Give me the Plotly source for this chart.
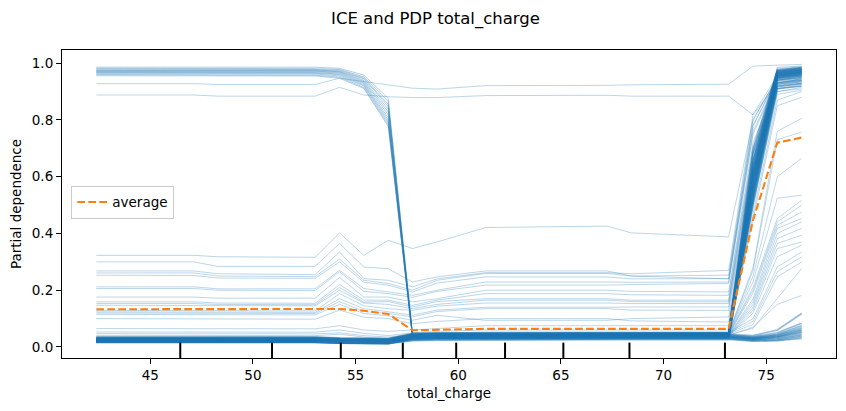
import plotly.graph_objects as go

# ---------------- data ----------------
# grid positions of total_charge at the key grid points of each line family
X_H = [42.37, 53.03, 54.22, 55.40, 56.59, 57.77, 58.96, 73.17, 74.36, 75.54, 76.73]
X_M = [42.37, 47.11, 48.29, 53.03, 54.22, 55.40, 56.59, 57.77, 58.96, 61.33,
       67.25, 68.44, 73.17, 74.36, 75.54, 76.73]
X_L = [42.37, 53.03, 54.22, 56.59, 57.77, 58.96, 73.17, 74.36, 75.54, 76.73]

# ICE lines that start high and drop at ~57.7 (values at X_H)
ICE_HIGH = [
    [0.986, 0.986, 0.982, 0.958, 0.876, 0.050, 0.050, 0.050, 0.66, 0.985, 0.990],
    [0.982, 0.981, 0.978, 0.952, 0.865, 0.046, 0.048, 0.048, 0.64, 0.980, 0.988],
    [0.979, 0.978, 0.975, 0.948, 0.855, 0.044, 0.046, 0.046, 0.62, 0.978, 0.985],
    [0.976, 0.976, 0.972, 0.945, 0.848, 0.043, 0.045, 0.045, 0.61, 0.975, 0.983],
    [0.974, 0.974, 0.970, 0.940, 0.838, 0.042, 0.044, 0.044, 0.60, 0.974, 0.982],
    [0.972, 0.972, 0.968, 0.936, 0.828, 0.041, 0.043, 0.043, 0.59, 0.972, 0.980],
    [0.970, 0.970, 0.965, 0.932, 0.818, 0.040, 0.042, 0.042, 0.58, 0.970, 0.978],
    [0.968, 0.967, 0.962, 0.928, 0.808, 0.039, 0.041, 0.041, 0.57, 0.968, 0.976],
    [0.966, 0.965, 0.959, 0.924, 0.800, 0.038, 0.040, 0.040, 0.56, 0.966, 0.975],
    [0.963, 0.962, 0.955, 0.920, 0.792, 0.037, 0.039, 0.039, 0.55, 0.963, 0.972],
    [0.960, 0.958, 0.951, 0.915, 0.785, 0.036, 0.038, 0.038, 0.54, 0.960, 0.970],
    [0.956, 0.955, 0.947, 0.911, 0.778, 0.035, 0.037, 0.037, 0.53, 0.957, 0.968],
]

# ICE lines staying high plus mid-level lines (values at X_M)
ICE_MID = [
    [0.928, 0.928, 0.925, 0.925, 0.947, 0.935, 0.922, 0.912, 0.909, 0.921, 0.922, 0.924, 0.926, 0.990, 0.993, 0.996],
    [0.888, 0.888, 0.884, 0.884, 0.915, 0.888, 0.882, 0.879, 0.879, 0.886, 0.887, 0.884, 0.884, 0.818, 0.930, 0.945],
    [0.323, 0.323, 0.318, 0.316, 0.402, 0.323, 0.376, 0.347, 0.370, 0.421, 0.426, 0.402, 0.388, 0.800, 0.950, 0.960],
    [0.300, 0.300, 0.284, 0.284, 0.365, 0.282, 0.276, 0.229, 0.247, 0.268, 0.268, 0.250, 0.240, 0.780, 0.950, 0.965],
    [0.268, 0.268, 0.258, 0.255, 0.335, 0.241, 0.235, 0.212, 0.240, 0.262, 0.262, 0.258, 0.270, 0.820, 0.955, 0.970],
    [0.261, 0.261, 0.250, 0.248, 0.310, 0.235, 0.224, 0.200, 0.235, 0.259, 0.259, 0.250, 0.253, 0.800, 0.950, 0.960],
    [0.253, 0.252, 0.243, 0.242, 0.300, 0.228, 0.218, 0.194, 0.225, 0.247, 0.247, 0.240, 0.241, 0.780, 0.945, 0.955],
    [0.212, 0.212, 0.205, 0.205, 0.270, 0.206, 0.194, 0.182, 0.200, 0.229, 0.229, 0.228, 0.229, 0.760, 0.940, 0.955],
    [0.206, 0.206, 0.200, 0.199, 0.265, 0.196, 0.188, 0.175, 0.196, 0.218, 0.218, 0.220, 0.224, 0.750, 0.940, 0.950],
    [0.176, 0.176, 0.172, 0.172, 0.245, 0.176, 0.176, 0.159, 0.170, 0.200, 0.200, 0.196, 0.194, 0.720, 0.930, 0.945],
    [0.159, 0.159, 0.155, 0.154, 0.220, 0.165, 0.165, 0.147, 0.165, 0.188, 0.188, 0.184, 0.182, 0.700, 0.930, 0.940],
    [0.153, 0.153, 0.150, 0.149, 0.210, 0.158, 0.160, 0.141, 0.160, 0.170, 0.170, 0.165, 0.165, 0.690, 0.925, 0.940],
    [0.147, 0.147, 0.145, 0.145, 0.200, 0.155, 0.150, 0.135, 0.150, 0.165, 0.165, 0.160, 0.159, 0.680, 0.920, 0.935],
    [0.129, 0.129, 0.127, 0.127, 0.188, 0.145, 0.135, 0.129, 0.144, 0.155, 0.155, 0.153, 0.153, 0.660, 0.920, 0.930],
    [0.124, 0.124, 0.122, 0.122, 0.170, 0.135, 0.124, 0.112, 0.130, 0.140, 0.140, 0.141, 0.141, 0.640, 0.915, 0.930],
    [0.120, 0.120, 0.118, 0.118, 0.160, 0.125, 0.118, 0.106, 0.125, 0.135, 0.135, 0.130, 0.129, 0.620, 0.910, 0.925],
    [0.115, 0.115, 0.113, 0.113, 0.150, 0.118, 0.110, 0.094, 0.112, 0.094, 0.094, 0.100, 0.106, 0.600, 0.910, 0.920],
    [0.100, 0.100, 0.098, 0.098, 0.130, 0.105, 0.100, 0.082, 0.090, 0.100, 0.100, 0.092, 0.088, 0.580, 0.900, 0.915],
    [0.065, 0.065, 0.064, 0.064, 0.075, 0.060, 0.055, 0.060, 0.065, 0.075, 0.075, 0.075, 0.075, 0.550, 0.900, 0.910],
    [0.053, 0.053, 0.052, 0.052, 0.060, 0.048, 0.040, 0.050, 0.055, 0.060, 0.060, 0.060, 0.060, 0.500, 0.890, 0.905],
    [0.047, 0.047, 0.046, 0.046, 0.050, 0.040, 0.035, 0.045, 0.048, 0.052, 0.052, 0.052, 0.052, 0.470, 0.870, 0.900],
    [0.041, 0.041, 0.040, 0.040, 0.045, 0.035, 0.030, 0.042, 0.045, 0.048, 0.048, 0.048, 0.048, 0.450, 0.850, 0.880],
]

# dense low bundle that rises at the end (values at X_L)
ICE_LOW_RISE = [
    [0.035, 0.035, 0.032, 0.030, 0.048, 0.050, 0.052, 0.70, 0.975, 0.985],
    [0.034, 0.034, 0.031, 0.029, 0.046, 0.048, 0.050, 0.68, 0.972, 0.982],
    [0.033, 0.033, 0.030, 0.028, 0.045, 0.047, 0.049, 0.66, 0.970, 0.980],
    [0.032, 0.032, 0.029, 0.027, 0.044, 0.046, 0.048, 0.65, 0.968, 0.978],
    [0.031, 0.031, 0.028, 0.026, 0.043, 0.045, 0.047, 0.64, 0.966, 0.976],
    [0.030, 0.030, 0.027, 0.025, 0.042, 0.044, 0.046, 0.63, 0.964, 0.974],
    [0.029, 0.029, 0.026, 0.024, 0.041, 0.043, 0.045, 0.62, 0.962, 0.972],
    [0.028, 0.028, 0.025, 0.023, 0.040, 0.042, 0.044, 0.61, 0.960, 0.970],
    [0.027, 0.027, 0.024, 0.022, 0.039, 0.041, 0.043, 0.60, 0.958, 0.968],
    [0.026, 0.026, 0.023, 0.021, 0.038, 0.040, 0.042, 0.60, 0.956, 0.966],
    [0.025, 0.025, 0.022, 0.020, 0.037, 0.039, 0.041, 0.59, 0.954, 0.964],
    [0.024, 0.024, 0.021, 0.019, 0.036, 0.038, 0.040, 0.58, 0.952, 0.962],
    [0.023, 0.023, 0.020, 0.018, 0.035, 0.037, 0.039, 0.57, 0.950, 0.960],
    [0.022, 0.022, 0.019, 0.017, 0.034, 0.036, 0.038, 0.56, 0.946, 0.956],
    [0.021, 0.021, 0.018, 0.016, 0.033, 0.035, 0.037, 0.55, 0.942, 0.952],
    [0.020, 0.020, 0.017, 0.015, 0.032, 0.034, 0.036, 0.54, 0.938, 0.948],
    [0.019, 0.019, 0.016, 0.014, 0.031, 0.033, 0.035, 0.53, 0.932, 0.942],
    [0.018, 0.018, 0.015, 0.013, 0.030, 0.032, 0.034, 0.52, 0.926, 0.936],
    [0.017, 0.017, 0.014, 0.012, 0.029, 0.031, 0.033, 0.51, 0.918, 0.928],
    [0.016, 0.016, 0.013, 0.012, 0.028, 0.030, 0.032, 0.50, 0.910, 0.920],
    [0.030, 0.030, 0.027, 0.024, 0.044, 0.046, 0.048, 0.62, 0.965, 0.975],
    [0.027, 0.027, 0.024, 0.021, 0.041, 0.043, 0.045, 0.59, 0.960, 0.970],
    [0.024, 0.024, 0.021, 0.018, 0.038, 0.040, 0.042, 0.56, 0.955, 0.965],
    [0.021, 0.021, 0.018, 0.016, 0.035, 0.037, 0.039, 0.53, 0.948, 0.958],
]

# dense low bundle that stays low at the end (values at X_L)
ICE_LOW_STAY = [
    [0.030, 0.030, 0.027, 0.024, 0.040, 0.042, 0.045, 0.040, 0.060, 0.118],
    [0.028, 0.028, 0.025, 0.022, 0.038, 0.040, 0.043, 0.036, 0.050, 0.084],
    [0.026, 0.026, 0.023, 0.020, 0.036, 0.038, 0.041, 0.034, 0.045, 0.075],
    [0.025, 0.025, 0.022, 0.019, 0.034, 0.036, 0.039, 0.032, 0.042, 0.068],
    [0.024, 0.024, 0.021, 0.018, 0.033, 0.035, 0.038, 0.031, 0.040, 0.062],
    [0.023, 0.023, 0.020, 0.018, 0.032, 0.034, 0.037, 0.030, 0.037, 0.058],
    [0.022, 0.022, 0.019, 0.017, 0.030, 0.032, 0.035, 0.028, 0.035, 0.054],
    [0.021, 0.021, 0.018, 0.016, 0.029, 0.031, 0.034, 0.027, 0.034, 0.050],
    [0.020, 0.020, 0.017, 0.015, 0.028, 0.030, 0.033, 0.026, 0.030, 0.045],
    [0.019, 0.019, 0.016, 0.014, 0.026, 0.028, 0.031, 0.024, 0.027, 0.040],
    [0.017, 0.017, 0.014, 0.013, 0.024, 0.026, 0.029, 0.022, 0.024, 0.035],
    [0.016, 0.016, 0.013, 0.012, 0.022, 0.024, 0.027, 0.020, 0.022, 0.030],
]

# low lines fanning out to intermediate values at the end (values at X_L)
ICE_FAN = [
    [0.029, 0.029, 0.026, 0.023, 0.042, 0.044, 0.050, 0.28, 0.760, 0.806],
    [0.028, 0.028, 0.025, 0.022, 0.041, 0.043, 0.049, 0.27, 0.730, 0.758],
    [0.027, 0.027, 0.024, 0.021, 0.040, 0.042, 0.048, 0.25, 0.600, 0.665],
    [0.026, 0.026, 0.023, 0.020, 0.039, 0.041, 0.047, 0.23, 0.524, 0.535],
    [0.025, 0.025, 0.022, 0.019, 0.038, 0.040, 0.046, 0.21, 0.453, 0.517],
    [0.024, 0.024, 0.021, 0.018, 0.037, 0.039, 0.045, 0.20, 0.441, 0.500],
    [0.023, 0.023, 0.020, 0.018, 0.036, 0.038, 0.044, 0.19, 0.429, 0.476],
    [0.022, 0.022, 0.019, 0.017, 0.035, 0.037, 0.043, 0.17, 0.418, 0.453],
    [0.021, 0.021, 0.018, 0.016, 0.034, 0.036, 0.042, 0.16, 0.400, 0.441],
    [0.020, 0.020, 0.017, 0.015, 0.033, 0.035, 0.041, 0.15, 0.382, 0.418],
    [0.019, 0.019, 0.016, 0.014, 0.032, 0.034, 0.040, 0.14, 0.365, 0.394],
    [0.018, 0.018, 0.015, 0.013, 0.031, 0.033, 0.039, 0.13, 0.347, 0.370],
    [0.017, 0.017, 0.014, 0.012, 0.030, 0.032, 0.038, 0.12, 0.318, 0.359],
    [0.030, 0.030, 0.027, 0.024, 0.043, 0.045, 0.051, 0.10, 0.282, 0.335],
    [0.027, 0.027, 0.024, 0.021, 0.040, 0.042, 0.048, 0.09, 0.265, 0.318],
    [0.024, 0.024, 0.021, 0.018, 0.037, 0.039, 0.045, 0.08, 0.247, 0.300],
    [0.021, 0.021, 0.018, 0.016, 0.034, 0.036, 0.042, 0.066, 0.171, 0.277],
    [0.020, 0.020, 0.017, 0.015, 0.033, 0.035, 0.041, 0.070, 0.150, 0.182],
]

# partial dependence average (values at X_M)
PDP_AVG = [0.133, 0.133, 0.132, 0.132, 0.134, 0.128, 0.116, 0.059, 0.061, 0.064,
           0.064, 0.064, 0.064, 0.447, 0.720, 0.738]

# deciles of total_charge (rug marks)
DECILES = [46.46, 50.93, 54.28, 57.30, 59.90, 62.28, 65.12, 68.34, 72.99]

X_TICKS = [45, 50, 55, 60, 65, 70, 75]
Y_TICKS = [0.0, 0.2, 0.4, 0.6, 0.8, 1.0]

TITLE = "ICE and PDP total_charge"
X_LABEL = "total_charge"
Y_LABEL = "Partial dependence"

# ---------------- figure ----------------
BLUE_THIN = "rgba(31,119,180,0.36)"
BLUE_DENSE = "rgba(31,119,180,0.5)"
FONT = "DejaVu Sans"

fig = go.Figure()


def add_lines(xs, rows, color, width):
    for row in rows:
        fig.add_trace(go.Scatter(x=xs, y=row, mode="lines",
                                 line=dict(color=color, width=width),
                                 showlegend=False, hoverinfo="skip"))


add_lines(X_L, ICE_LOW_RISE, BLUE_DENSE, 1.6)
add_lines(X_L, ICE_LOW_STAY, BLUE_DENSE, 1.6)
add_lines(X_L, ICE_FAN, BLUE_THIN, 0.8)
add_lines(X_H, ICE_HIGH, BLUE_THIN, 1.0)
add_lines(X_M, ICE_MID, BLUE_THIN, 0.85)

fig.add_trace(go.Scatter(x=X_M, y=PDP_AVG, mode="lines", name="average",
                         line=dict(color="#ff7f0e", width=2.1, dash="7.7px,3.3px"),
                         hoverinfo="skip"))

for d in DECILES:
    fig.add_shape(type="line", xref="x", yref="paper", x0=d, x1=d, y0=0, y1=0.05,
                  line=dict(color="black", width=2))

axis_common = dict(showline=True, linecolor="black", linewidth=1.1, mirror=True,
                   ticks="outside", ticklen=5, tickwidth=1.1, tickcolor="black",
                   showgrid=False, zeroline=False, automargin=False,
                   tickfont=dict(family=FONT, size=13.5, color="black"))

# the page body adds an 8px offset, so the figure is 16px smaller than the window
W, H = 830, 395
fig.update_layout(
    width=W, height=H,
    margin=dict(l=54, r=2, t=42, b=45),
    paper_bgcolor="white", plot_bgcolor="white",
    font=dict(family=FONT, color="black"),
    title=dict(text=TITLE, x=427.5 / W, xref="container", xanchor="center",
               y=1 - 10 / H, yref="container", yanchor="middle",
               font=dict(family=FONT, size=16.5, color="black")),
    xaxis=dict(range=[40.70, 78.40], tickvals=X_TICKS,
               title=dict(text=X_LABEL, standoff=6,
                          font=dict(family=FONT, size=13.5, color="black")),
               **axis_common),
    yaxis=dict(range=[-0.0388, 1.0466], tickvals=Y_TICKS, tickformat=".1f",
               title=dict(text=Y_LABEL, standoff=8,
                          font=dict(family=FONT, size=13.5, color="black")),
               **axis_common),
    legend=dict(x=0.012, y=0.506, xanchor="left", yanchor="middle",
                bgcolor="rgba(255,255,255,0.8)", bordercolor="#cccccc",
                borderwidth=1, font=dict(family=FONT, size=13.5, color="black")),
)

fig.write_html("out.html")
